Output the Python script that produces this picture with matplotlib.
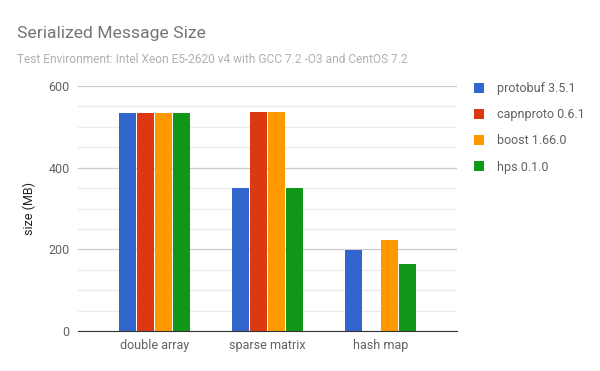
import numpy as np
import matplotlib.pyplot as plt
from matplotlib.ticker import MultipleLocator

plt.rcParams['font.family'] = ['Roboto', 'DejaVu Sans']

# Data
categories = ["double array", "sparse matrix", "hash map"]
series = ["protobuf 3.5.1", "capnproto 0.6.1", "boost 1.66.0", "hps 0.1.0"]
protobuf = [533, 350, 198]
capnproto = [533, 536, 0]
boost = [533, 536, 222]
hps = [533, 350, 164]
values = [protobuf, capnproto, boost, hps]
colors = ["#3366cc", "#dc3912", "#ff9900", "#109618"]

fig = plt.figure(figsize=(6, 3.71), dpi=100)
ax = fig.add_axes([0.13, 0.1078, 0.6317, 0.6604])

x = np.arange(len(categories))
step = 0.16
width = 0.15
for i, (name, vals, c) in enumerate(zip(series, values, colors)):
    offs = (i - 1.5) * step
    ax.bar(x + offs, vals, width=width, color=c, label=name, zorder=3)

ax.set_xlim(-0.677, 2.677)
ax.set_ylim(0, 600)
ax.yaxis.set_major_locator(MultipleLocator(200))
ax.yaxis.set_minor_locator(MultipleLocator(50))
ax.grid(axis='y', which='major', color='#cccccc', linewidth=0.9, zorder=0)
ax.grid(axis='y', which='minor', color='#ebebeb', linewidth=0.9, zorder=0)
ax.set_xticks(x)
ax.set_xticklabels(categories)
ax.tick_params(axis='both', which='both', length=0, labelsize=9, labelcolor='#616161')
ax.tick_params(axis='x', pad=6)
ax.tick_params(axis='y', pad=6)
for s in ['top', 'right', 'left']:
    ax.spines[s].set_visible(False)
ax.spines['bottom'].set_color('#333333')
ax.spines['bottom'].set_zorder(4)
ax.set_ylabel("size (MB)", fontsize=9, color='#222222', labelpad=9)

fig.text(17 / 600, 1 - 38 / 371, "Serialized Message Size", fontsize=12.6,
         color='#757575', ha='left', va='baseline')
fig.text(17 / 600, 1 - 63 / 371,
         "Test Environment: Intel Xeon E5-2620 v4 with GCC 7.2 -O3 and CentOS 7.2",
         fontsize=8.6, color='#b0b0b0', ha='left', va='baseline')

leg = ax.legend(loc='upper left', bbox_to_anchor=(0.782, 0.792), bbox_transform=fig.transFigure,
                frameon=False, fontsize=9, handlelength=0.8, handleheight=0.8,
                handletextpad=1.0, labelspacing=1.05, borderaxespad=0)
for t in leg.get_texts():
    t.set_color('#616161')

fig.savefig("out.png", dpi=100)
